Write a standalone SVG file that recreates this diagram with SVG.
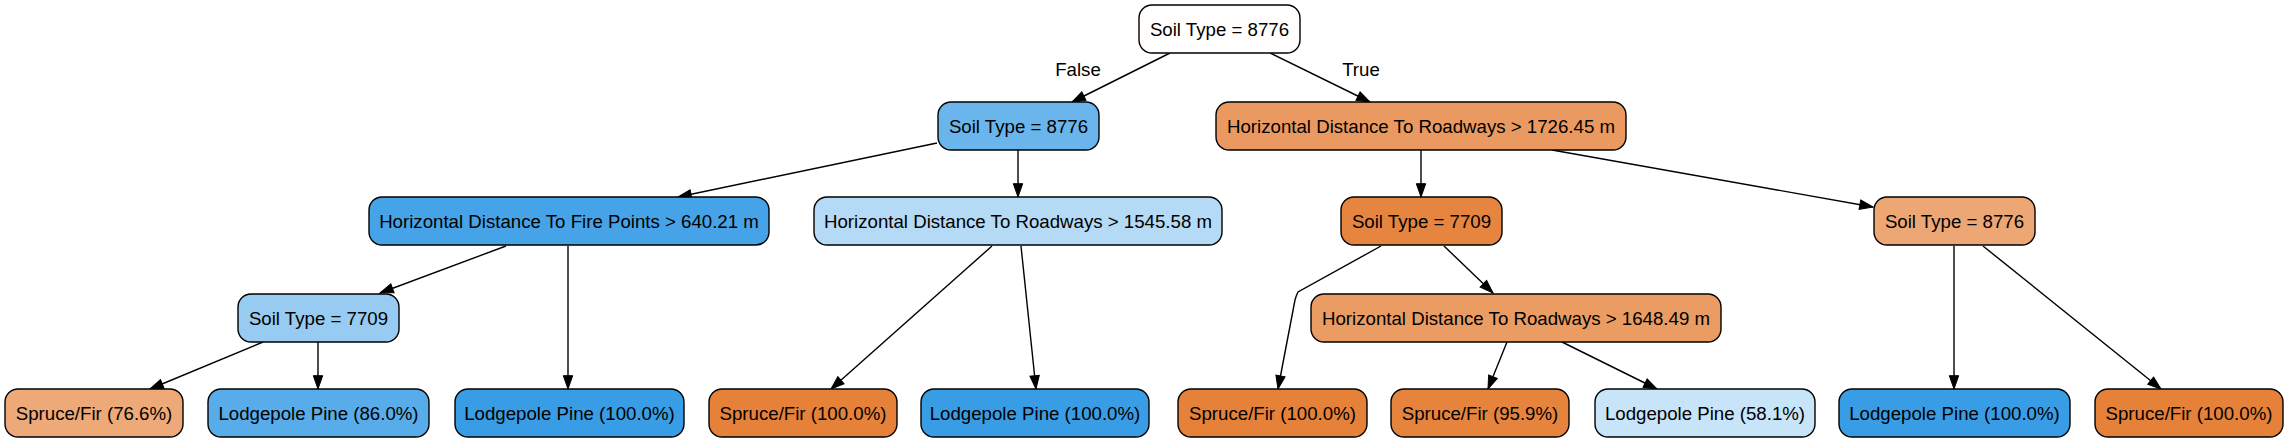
<svg xmlns="http://www.w3.org/2000/svg" width="2289" height="443" viewBox="0 0 2289 443">
<style>
.n rect{stroke:#000;stroke-width:1.4}
.n text,.lbl{font-family:"Liberation Sans",Arial,sans-serif;font-size:18.67px;fill:#000;text-anchor:middle}
.e path{fill:none;stroke:#000;stroke-width:1.4}
</style>
<defs>
<marker id="ah" markerUnits="userSpaceOnUse" markerWidth="16" markerHeight="12" viewBox="0 -6 14 12" refX="13.3" refY="0" orient="auto">
<path d="M0,-4.7 L13.3,0 L0,4.7 z" fill="#000" stroke="#000" stroke-width="1"/>
</marker>
</defs>
<rect width="2289" height="443" fill="#fff"/>
<g id="edges" class="e">
<path d="M1170,53 L1072,102" marker-end="url(#ah)"/>
<path d="M1270,53 L1370,102" marker-end="url(#ah)"/>
<path d="M937,143 L678,197" marker-end="url(#ah)"/>
<path d="M1018,150 L1018,197" marker-end="url(#ah)"/>
<path d="M506,246 L380,293" marker-end="url(#ah)"/>
<path d="M568,246 L568,389" marker-end="url(#ah)"/>
<path d="M992,246 L831,389" marker-end="url(#ah)"/>
<path d="M1021,246 L1036,389" marker-end="url(#ah)"/>
<path d="M263,342 L150,389" marker-end="url(#ah)"/>
<path d="M318,342 L318,389" marker-end="url(#ah)"/>
<path d="M1421,150 L1421,197" marker-end="url(#ah)"/>
<path d="M1552,150 L1873,207" marker-end="url(#ah)"/>
<path d="M1381,246 L1298,292 Q1296,296 1295,300 L1278,389" marker-end="url(#ah)"/>
<path d="M1444,246 L1493,293" marker-end="url(#ah)"/>
<path d="M1507,342 L1488,389" marker-end="url(#ah)"/>
<path d="M1562,342 L1657,389" marker-end="url(#ah)"/>
<path d="M1954,246 L1954,389" marker-end="url(#ah)"/>
<path d="M1983,246 L2161,389" marker-end="url(#ah)"/>
<text class="lbl" x="1078" y="76">False</text>
<text class="lbl" x="1361" y="76">True</text>
</g>
<g id="n0" class="n"><rect x="1139" y="5" width="161" height="48" rx="13" fill="#fffefd"/><text x="1219.5" y="35.5">Soil Type = 8776</text></g>
<g id="n1" class="n"><rect x="938" y="102" width="161" height="48" rx="13" fill="#6ab6ec"/><text x="1018.5" y="132.5">Soil Type = 8776</text></g>
<g id="n2" class="n"><rect x="1216" y="102" width="410" height="48" rx="13" fill="#ea9a61"/><text x="1421" y="132.5">Horizontal Distance To Roadways &gt; 1726.45 m</text></g>
<g id="n3" class="n"><rect x="369" y="197" width="400" height="48" rx="13" fill="#46a3e7"/><text x="569" y="227.5">Horizontal Distance To Fire Points &gt; 640.21 m</text></g>
<g id="n4" class="n"><rect x="814" y="197" width="408" height="48" rx="13" fill="#b5daf5"/><text x="1018" y="227.5">Horizontal Distance To Roadways &gt; 1545.58 m</text></g>
<g id="n5" class="n"><rect x="1341" y="197" width="161" height="48" rx="13" fill="#e6853f"/><text x="1421.5" y="227.5">Soil Type = 7709</text></g>
<g id="n6" class="n"><rect x="1874" y="197" width="161" height="48" rx="13" fill="#eda774"/><text x="1954.5" y="227.5">Soil Type = 8776</text></g>
<g id="n7" class="n"><rect x="238" y="294" width="161" height="48" rx="13" fill="#97cbf1"/><text x="318.5" y="324.5">Soil Type = 7709</text></g>
<g id="n8" class="n"><rect x="1311" y="294" width="410" height="48" rx="13" fill="#eb9c63"/><text x="1516" y="324.5">Horizontal Distance To Roadways &gt; 1648.49 m</text></g>
<g id="n9" class="n"><rect x="5" y="389" width="178" height="48" rx="13" fill="#eda978"/><text x="94" y="419.5">Spruce/Fir (76.6%)</text></g>
<g id="n10" class="n"><rect x="208" y="389" width="221" height="48" rx="13" fill="#57ace9"/><text x="318.5" y="419.5">Lodgepole Pine (86.0%)</text></g>
<g id="n11" class="n"><rect x="455" y="389" width="229" height="48" rx="13" fill="#399de5"/><text x="569.5" y="419.5">Lodgepole Pine (100.0%)</text></g>
<g id="n12" class="n"><rect x="709" y="389" width="188" height="48" rx="13" fill="#e58139"/><text x="803" y="419.5">Spruce/Fir (100.0%)</text></g>
<g id="n13" class="n"><rect x="921" y="389" width="228" height="48" rx="13" fill="#399de5"/><text x="1035" y="419.5">Lodgepole Pine (100.0%)</text></g>
<g id="n14" class="n"><rect x="1178" y="389" width="189" height="48" rx="13" fill="#e58139"/><text x="1272.5" y="419.5">Spruce/Fir (100.0%)</text></g>
<g id="n15" class="n"><rect x="1391" y="389" width="178" height="48" rx="13" fill="#e6843e"/><text x="1480" y="419.5">Spruce/Fir (95.9%)</text></g>
<g id="n16" class="n"><rect x="1595" y="389" width="220" height="48" rx="13" fill="#c8e4f8"/><text x="1705" y="419.5">Lodgepole Pine (58.1%)</text></g>
<g id="n17" class="n"><rect x="1839" y="389" width="231" height="48" rx="13" fill="#399de5"/><text x="1954.5" y="419.5">Lodgepole Pine (100.0%)</text></g>
<g id="n18" class="n"><rect x="2095" y="389" width="188" height="48" rx="13" fill="#e58139"/><text x="2189" y="419.5">Spruce/Fir (100.0%)</text></g>
</svg>
